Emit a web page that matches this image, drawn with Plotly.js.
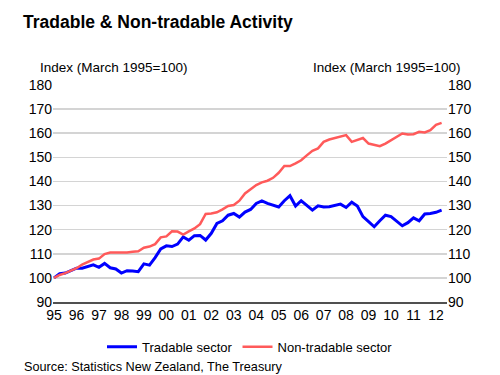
<!DOCTYPE html>
<html>
<head>
<meta charset="utf-8">
<script src="https://cdn.plot.ly/plotly-3.0.1.min.js"></script>
<style>html,body{margin:0;padding:0;background:#fff;}#chart{width:500px;height:375px;}</style>
</head>
<body>
<div id="chart"></div>
<script>
// Quarterly index, March 1995 quarter = 100, through June 2012 quarter
var startYear = 1995;
var tradable = [
  100, 101.7, 102, 103, 104, 104, 104.7, 105.4, 104.4, 106, 104.2, 103.7, 102, 103, 102.9, 102.6, 105.8, 105.3, 108.4, 112, 113.3, 113, 114, 117, 115.6,
  117.5, 117.6, 115.7, 118.5, 122.6, 123.7, 126, 126.7, 125.2, 127.3, 128.4, 130.9, 131.9, 130.9, 130.2, 129.4, 132, 134.1, 129.8, 132, 130.1, 128.1, 129.9, 129.4, 129.5,
  130, 130.6, 129.2, 131.4, 129.8, 125.4, 123.3, 121.2, 123.7, 126, 125.4, 123.6, 121.6, 122.9, 124.9, 123.7, 126.5, 126.7, 127.2, 128.1
];
var nonTradable = [
  100, 101.2, 102, 103, 104, 105.5, 106.6, 107.6, 108, 109.9, 110.5, 110.4, 110.4, 110.5, 110.8, 111, 112.5, 113, 114, 116.8, 117.2, 119.3, 119.2, 118, 119.3,
  120.5, 122.3, 126.5, 126.7, 127.2, 128.4, 129.8, 130.2, 132, 135, 136.7, 138.5, 139.6, 140.3, 141.5, 143.6, 146.4, 146.4, 147.5, 148.8, 150.8, 152.7, 153.7, 156.4, 157.4,
  158, 158.7, 159.2, 156.4, 157.1, 158, 155.7, 155.3, 154.6, 155.7, 157.1, 158.7, 159.9, 159.5, 159.6, 160.6, 160.3, 161.3, 163.5, 164.3
];
var yearTicks = [1995,1996,1997,1998,1999,2000,2001,2002,2003,2004,2005,2006,2007,2008,2009,2010,2011,2012];
var yearLabels = ["95","96","97","98","99","00","01","02","03","04","05","06","07","08","09","10","11","12"];
var yTicks = [90,100,110,120,130,140,150,160,170,180];

var quarters = [];
for (var i = 0; i < tradable.length; i++) quarters.push(startYear + i * 0.25);

var FONT = 'Arial, "Liberation Sans", sans-serif';

var traces = [
  {x: quarters, y: tradable, type: 'scatter', mode: 'lines', name: 'Tradable sector',
   line: {color: '#0000ff', width: 3}},
  {x: quarters, y: nonTradable, type: 'scatter', mode: 'lines', name: 'Non-tradable sector',
   line: {color: '#ff5a5a', width: 2.5}},
  {x: quarters, y: tradable, type: 'scatter', mode: 'lines', yaxis: 'y2', showlegend: false,
   hoverinfo: 'skip', line: {color: 'rgba(0,0,0,0)', width: 0}}
];

var layout = {
  width: 500, height: 375,
  margin: {l: 53, r: 53, t: 85, b: 73, pad: 0},
  paper_bgcolor: '#ffffff', plot_bgcolor: '#ffffff',
  font: {family: FONT, size: 14, color: '#000000'},
  showlegend: true,
  legend: {orientation: 'h', x: 0.5, xanchor: 'center', y: -0.206, yanchor: 'middle',
           font: {family: FONT, size: 13, color: '#000'}, bgcolor: 'rgba(0,0,0,0)'},
  xaxis: {range: [1994.955, 2012.49], tickvals: yearTicks, ticktext: yearLabels,
          showgrid: false, zeroline: false, showline: true, linecolor: '#505050', linewidth: 1.5,
          ticks: '', tickfont: {family: FONT, size: 14, color: '#000'}},
  yaxis: {range: [90, 180], tickvals: yTicks, showgrid: true, gridcolor: '#d4d4d4', gridwidth: 1.5,
          zeroline: false, showline: false, ticks: '', tickfont: {family: FONT, size: 14, color: '#000'}},
  yaxis2: {range: [90, 180], tickvals: yTicks, overlaying: 'y', side: 'right', showgrid: false,
           zeroline: false, showline: false, ticks: '', tickfont: {family: FONT, size: 14, color: '#000'}},
  annotations: [
    {text: '<b>Tradable &amp; Non-tradable Activity</b>', xref: 'paper', yref: 'paper',
     x: -0.0812, xanchor: 'left', y: 1.2885, yanchor: 'middle', showarrow: false,
     font: {family: FONT, size: 17.5, color: '#000'}},
    {text: 'Index (March 1995=100)', xref: 'paper', yref: 'paper',
     x: -0.038, xanchor: 'left', y: 1.0815, yanchor: 'middle', showarrow: false,
     font: {family: FONT, size: 13.5, color: '#000'}},
    {text: 'Index (March 1995=100)', xref: 'paper', yref: 'paper',
     x: 1.038, xanchor: 'right', y: 1.0815, yanchor: 'middle', showarrow: false,
     font: {family: FONT, size: 13.5, color: '#000'}},
    {text: 'Source: Statistics New Zealand, The Treasury', xref: 'paper', yref: 'paper',
     x: -0.0787, xanchor: 'left', y: -0.299, yanchor: 'middle', showarrow: false,
     font: {family: FONT, size: 12.7, color: '#000'}}
  ]
};

Plotly.newPlot('chart', traces, layout, {displayModeBar: false, staticPlot: true});
</script>
</body>
</html>
